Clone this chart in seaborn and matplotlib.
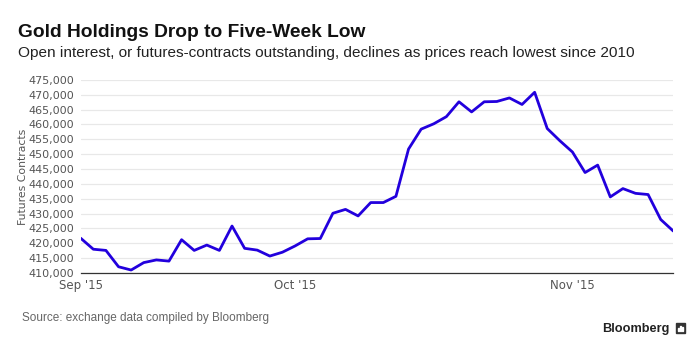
import matplotlib
matplotlib.use("Agg")
import matplotlib.pyplot as plt
from matplotlib.patches import Rectangle
from matplotlib.ticker import FuncFormatter
import pandas as pd
import seaborn as sns

# COMEX gold open interest, one value per trading day (Sep 8 - Nov 12, 2015)
trade_dates = pd.bdate_range("2015-09-08", "2015-11-12")
open_interest = [
    421700, 418000, 417600, 412100, 411000, 413500, 414400, 414000,
    421200, 417600, 419400, 417600, 425800, 418300, 417700, 415700,
    417000, 419100, 421500, 421600, 430100, 431400, 429200, 433700,
    433700, 435800, 451700, 458400, 460200, 462600, 467600, 464200,
    467600, 467700, 468900, 466700, 470800, 458600, 454500, 450700,
    443800, 446300, 435600, 438400, 436800, 436400, 428000, 424100,
]
month_labels = ["Sep '15", "Oct '15", "Nov '15"]
y_ticks = list(range(410000, 475001, 5000))

LINE = "#2200dd"
TICK_GREY = "#555555"
SANS = ["Liberation Sans", "DejaVu Sans"]

df = pd.DataFrame({"date": trade_dates, "oi": open_interest})
df["idx"] = range(len(df))
month_starts = df.groupby(df["date"].dt.month)["idx"].first().tolist()

sns.set_style("white")
plt.rcParams["font.family"] = ["DejaVu Sans"]

fig = plt.figure(figsize=(7, 3.5), dpi=100)
ax = fig.add_axes([0.1153, 0.22, 0.8466, 0.552])

sns.lineplot(data=df, x="idx", y="oi", color=LINE, linewidth=2.0, ax=ax)

ax.set_xlim(0, len(df) - 1)
ax.set_ylim(y_ticks[0], y_ticks[-1])
ax.set_yticks(y_ticks)
ax.yaxis.set_major_formatter(FuncFormatter(lambda v, _: f"{v:,.0f}"))
ax.grid(axis="y", color="#e8e8e8", linewidth=0.9)
ax.set_axisbelow(True)

ax.set_xticks(month_starts)
ax.set_xticklabels(month_labels)
ax.set_xticks([len(df) - 1], minor=True)
ax.tick_params(axis="x", which="both", direction="out", length=3, width=0.8,
               color="#333333", labelsize=8.5, labelcolor=TICK_GREY, pad=1.5)
ax.tick_params(axis="y", length=0, labelsize=8, labelcolor=TICK_GREY, pad=5)

for side in ["top", "right", "left"]:
    ax.spines[side].set_visible(False)
ax.spines["bottom"].set_color("#333333")
ax.spines["bottom"].set_linewidth(0.9)

ax.set_xlabel("")
ax.set_ylabel("Futures Contracts", fontsize=7.8, color=TICK_GREY, labelpad=0)

fig.text(0.026, 1 - 36.7 / 350, "Gold Holdings Drop to Five-Week Low",
         family=SANS, fontsize=13.8, fontweight="bold", color="#111111")
fig.text(0.026, 1 - 57.5 / 350,
         "Open interest, or futures-contracts outstanding, declines as prices reach lowest since 2010",
         family=SANS, fontsize=11.1, color="#222222")
fig.text(0.032, 1 - 320.7 / 350, "Source: exchange data compiled by Bloomberg",
         family=SANS, fontsize=8.5, color="#666666")
fig.text(0.956, 1 - 332.3 / 350, "Bloomberg", family=SANS, fontsize=9.2,
         fontweight="bold", color="#222222", ha="right")

# small Bloomberg terminal mark next to the wordmark
fig.patches.append(Rectangle((676 / 700, 1 - 333 / 350), 9 / 700, 10 / 350,
                             transform=fig.transFigure, color="#333333"))
for bx, bh in [(678.2, 3.5), (680.2, 5.5), (682.2, 4.0)]:
    fig.patches.append(Rectangle((bx / 700, 1 - 331 / 350), 1.2 / 700, bh / 350,
                                 transform=fig.transFigure, color="white"))

fig.savefig("out.png", dpi=100)
plt.close(fig)
